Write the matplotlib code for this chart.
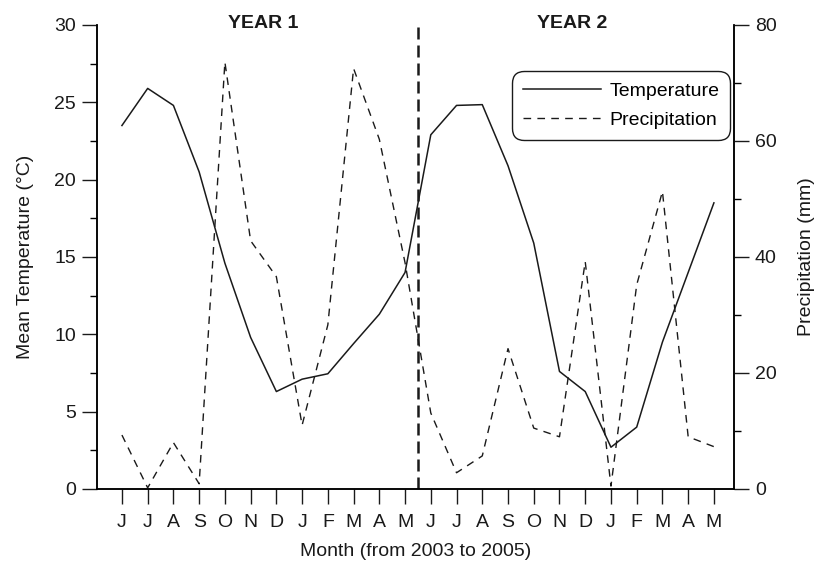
import matplotlib.pyplot as plt
from matplotlib.ticker import MultipleLocator

plt.rcParams['font.family'] = ['Liberation Sans', 'DejaVu Sans']

months = ['J', 'J', 'A', 'S', 'O', 'N', 'D', 'J', 'F', 'M', 'A', 'M',
          'J', 'J', 'A', 'S', 'O', 'N', 'D', 'J', 'F', 'M', 'A', 'M']

# mean temperature (deg C), June 2003 - May 2005
temperature = [23.5, 25.9, 24.8, 20.5, 14.6, 9.8, 6.3, 7.1, 7.45, 9.4, 11.3, 14.0,
               22.9, 24.8, 24.85, 20.9, 15.9, 7.6, 6.3, 2.7, 4.0, 9.5, 14.0, 18.5]

# precipitation (mm)
precipitation = [9.3, 0.2, 8.0, 0.9, 73.6, 42.8, 36.6, 11.0, 28.3, 72.5, 60.3, 39.0,
                 13.1, 2.8, 5.7, 24.2, 10.5, 9.0, 39.2, 0.5, 35.2, 51.3, 9.0, 7.3]

year_labels = ['YEAR 1', 'YEAR 2']

x = list(range(len(months)))
ink = '#1a1a1a'

fig = plt.figure(figsize=(8.19, 5.64), dpi=100)
ax = fig.add_axes([0.1184, 0.133, 0.7778, 0.8227])
ax2 = ax.twinx()

l1, = ax.plot(x, temperature, color=ink, lw=1.1, label='Temperature')
l2, = ax2.plot(x, precipitation, color=ink, lw=1.0,
               linestyle=(0, (5.5, 4.5)), label='Precipitation')

# split between the two years
ax.axvline(11.5, color=ink, lw=1.8, linestyle=(0, (4.8, 2.4)))

ax.set_xlim(-0.97, 23.78)
ax.set_ylim(0, 30)
ax2.set_ylim(0, 80)

ax.set_xticks(x)
ax.set_xticklabels(months)
ax.yaxis.set_major_locator(MultipleLocator(5))
ax.yaxis.set_minor_locator(MultipleLocator(2.5))
ax2.yaxis.set_major_locator(MultipleLocator(20))
ax2.yaxis.set_minor_locator(MultipleLocator(10))

for a in (ax, ax2):
    a.spines['top'].set_visible(False)
    for s in a.spines.values():
        s.set_linewidth(1.1)
    a.tick_params(which='major', direction='out', length=11, width=1.0,
                  labelsize=14, pad=4, colors=ink)
    a.tick_params(which='minor', direction='out', length=5, width=1.0)
ax.tick_params(axis='x', pad=7)

ax.set_xlabel('Month (from 2003 to 2005)', fontsize=14, labelpad=9, color=ink)
ax.set_ylabel('Mean Temperature (°C)', fontsize=14, labelpad=15, color=ink)
ax2.set_ylabel('Precipitation (mm)', fontsize=14, labelpad=15, color=ink)

ax.text(5.5, 30.1, year_labels[0], ha='center', va='center', color=ink,
        fontsize=14, fontweight='bold', clip_on=False)
ax.text(17.5, 30.1, year_labels[1], ha='center', va='center', color=ink,
        fontsize=14, fontweight='bold', clip_on=False)

leg = ax2.legend(handles=[l1, l2], loc='upper right', bbox_to_anchor=(0.994, 0.9),
                 fontsize=14, frameon=True, fancybox=True, handlelength=4.0,
                 handletextpad=0.45, borderpad=0.55, labelspacing=0.6,
                 borderaxespad=0)
leg.get_frame().set_edgecolor(ink)
leg.get_frame().set_linewidth(1.0)
leg.get_frame().set_alpha(1)
leg.get_frame().set_boxstyle('round', pad=0, rounding_size=0.6)

fig.savefig('out.png', dpi=100)
